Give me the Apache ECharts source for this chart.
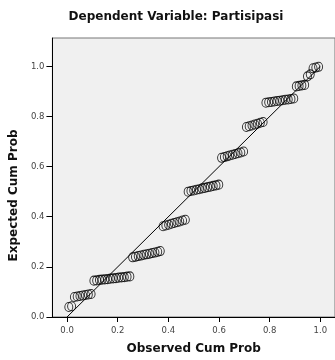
<!DOCTYPE html>
<html>
<head>
<meta charset="utf-8">
<script src="https://cdn.jsdelivr.net/npm/echarts@6/dist/echarts.min.js"></script>
<style>
  html, body { margin: 0; padding: 0; background: #fff; }
  #chart { width: 335px; height: 360px; }
</style>
</head>
<body>
<div id="chart"></div>
<script>
// observed cumulative probability (x) for each case
const observedCum = [
  0.007, 0.018,
  0.029, 0.040, 0.051, 0.062, 0.073, 0.084, 0.095,
  0.106, 0.117, 0.128, 0.138, 0.149, 0.160, 0.171, 0.182, 0.193, 0.204, 0.215, 0.226, 0.237, 0.248,
  0.259, 0.270, 0.281, 0.292, 0.303, 0.314, 0.325, 0.336, 0.347, 0.358, 0.368,
  0.379, 0.390, 0.401, 0.412, 0.423, 0.434, 0.445, 0.456, 0.467,
  0.478, 0.489, 0.500, 0.511, 0.522, 0.533, 0.544, 0.555, 0.566, 0.577, 0.588, 0.599,
  0.610, 0.621, 0.632, 0.642, 0.653, 0.664, 0.675, 0.686, 0.697,
  0.708, 0.719, 0.730, 0.741, 0.752, 0.763, 0.774,
  0.785, 0.796, 0.807, 0.818, 0.829, 0.840, 0.851, 0.862, 0.873, 0.884, 0.895,
  0.905, 0.916, 0.927, 0.938,
  0.949, 0.960,
  0.971, 0.982, 0.993
];

// expected cumulative probability (y) for each case
const expectedCum = [
  0.040, 0.043,
  0.080, 0.082, 0.084, 0.086, 0.088, 0.090, 0.092,
  0.145, 0.146, 0.148, 0.149, 0.150, 0.151, 0.153, 0.154, 0.155, 0.157, 0.158, 0.159, 0.161, 0.162,
  0.238, 0.240, 0.243, 0.245, 0.248, 0.250, 0.252, 0.255, 0.257, 0.260, 0.263,
  0.362, 0.365, 0.368, 0.372, 0.375, 0.378, 0.381, 0.385, 0.388,
  0.500, 0.503, 0.505, 0.508, 0.510, 0.513, 0.515, 0.518, 0.520, 0.523, 0.525, 0.528,
  0.635, 0.638, 0.641, 0.644, 0.647, 0.650, 0.653, 0.656, 0.660,
  0.758, 0.761, 0.764, 0.768, 0.771, 0.775, 0.778,
  0.855, 0.857, 0.858, 0.860, 0.862, 0.863, 0.865, 0.867, 0.868, 0.870, 0.872,
  0.920, 0.922, 0.924, 0.926,
  0.960, 0.968,
  0.992, 0.995, 0.998
];

const refLine = [[0, 0], [1, 1]];
const tickValues = [0, 0.2, 0.4, 0.6, 0.8, 1.0];

const chart = echarts.init(document.getElementById('chart'));

const boldText = {
  color: '#111',
  fontSize: 12,
  fontWeight: 'bold',
  fontFamily: 'DejaVu Sans, sans-serif'
};

const axisLabelStyle = {
  color: '#444',
  fontSize: 8.5,
  fontFamily: 'DejaVu Sans, sans-serif',
  formatter: v => v.toFixed(1)
};

const option = {
  animation: false,
  backgroundColor: '#fff',
  title: {
    text: 'Dependent Variable: Partisipasi',
    left: 171,
    textAlign: 'center',
    top: 6,
    textStyle: boldText
  },
  grid: {
    left: 50,
    right: -5,
    top: 38,
    bottom: 40,
    show: true,
    backgroundColor: '#f0f0f0',
    borderColor: '#777',
    borderWidth: 1
  },
  xAxis: {
    type: 'value',
    min: -0.0577,
    max: 1.0577,
    name: 'Observed Cum Prob',
    nameLocation: 'middle',
    nameGap: 26,
    nameTextStyle: boldText,
    axisLine: { onZero: false, lineStyle: { color: '#000', width: 1 } },
    axisTick: { length: 5, customValues: tickValues, lineStyle: { color: '#000' } },
    axisLabel: Object.assign({ customValues: tickValues, margin: 9 }, axisLabelStyle),
    splitLine: { show: false }
  },
  yAxis: {
    type: 'value',
    min: 0,
    max: 1.113,
    name: 'Expected Cum Prob',
    nameLocation: 'middle',
    nameGap: 22,
    nameTextStyle: Object.assign({ padding: [0, 36, 0, 0] }, boldText),
    axisLine: { onZero: false, lineStyle: { color: '#000', width: 1 } },
    axisTick: { length: 6, customValues: tickValues, lineStyle: { color: '#000' } },
    axisLabel: Object.assign({ customValues: tickValues, margin: 8 }, axisLabelStyle),
    splitLine: { show: false }
  },
  series: [
    {
      type: 'line',
      data: refLine,
      symbol: 'none',
      lineStyle: { color: '#000', width: 1 },
      silent: true,
      z: 2
    },
    {
      type: 'scatter',
      data: observedCum.map((x, i) => [x, expectedCum[i]]),
      symbol: 'circle',
      symbolSize: [8, 9],
      itemStyle: { color: 'rgba(0,0,0,0)', borderColor: '#000', borderWidth: 1 },
      z: 3
    }
  ]
};

chart.setOption(option);
</script>
</body>
</html>
